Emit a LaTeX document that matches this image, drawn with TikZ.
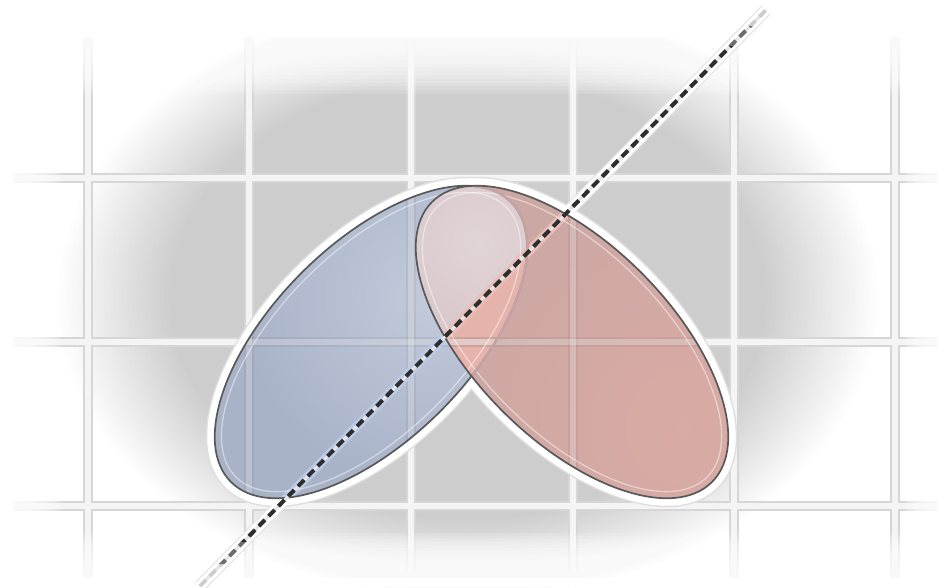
\documentclass[tikz,border=0pt]{standalone}
\definecolor{blueBase}{HTML}{A9B3C8}
\definecolor{blueHi}{HTML}{C2CADB}
\definecolor{redBase}{HTML}{CCA8A4}
\definecolor{redHi}{HTML}{DAAAA4}
\definecolor{mauve}{HTML}{CFBABE}
\definecolor{mauveHi}{HTML}{E1D4D7}
\definecolor{salmon}{HTML}{E5B3AB}
\definecolor{olgray}{HTML}{585858}
\definecolor{blueHalo}{HTML}{BBCAE6}
\definecolor{redHalo}{HTML}{EBBDB4}
\definecolor{pinkedge}{HTML}{C4A3A6}
\definecolor{dashc}{HTML}{2E2E2E}
\begin{document}
\begin{tikzpicture}[x=1pt,y=1pt,
  blueT/.style={rotate around={45:(blueC)}},
  redT/.style={rotate around={-45:(redC)}},
  bloblayer/.style={fill=black, fill opacity=0.0064},
  gridedge/.style={draw=gray!32, line width=10pt},
  gridcore/.style={draw=gray!9, line width=5.5pt},
  ingridedge/.style={draw=black, draw opacity=0.05, line width=10pt},
  ingridcore/.style={draw=white, draw opacity=0.28, line width=5.5pt},
  ellhalo/.style={draw=white, line width=15pt},
  ellhaloedge/.style={draw=gray!25, line width=18pt},
  rimline/.style={draw=white, draw opacity=0.45, line width=1.3pt},
  elloutline/.style={draw=olgray, line width=1.7pt},
  dashhalo/.style={draw=white, line width=10pt},
  dashhaloedge/.style={draw=gray!20, line width=12.5pt},
  dashbase/.style={draw=gray!20, line width=3pt},
  dashseg/.style={draw=#1, line width=3.8pt, dash pattern=on 8.5pt off 5.5pt},
  fadelayer/.style={fill=white, fill opacity=0.15}
]
\useasboundingbox (0,0) rectangle (946,587);
\coordinate (blobC) at (468,290);
\coordinate (blueC) at (371,245);
\coordinate (redC) at (572,245);
\coordinate (lineA) at (200,1);
\coordinate (lineB) at (766,577);
\coordinate (P1) at (-83,-287);
\coordinate (P2) at (1049,865);
\fill[white] (0,0) rectangle (946,587);
\begin{scope}
\clip (0,0) rectangle (946,587);
% soft gray background (stacked translucent layers)
\foreach \i in {0,...,24} \fill[bloblayer] (blobC) ellipse ({410-\i*4.6} and {300-\i*3.2});
% grid
\foreach \gx in {88,249,411,573,734,895} \draw[gridedge] (\gx,0) -- (\gx,587);
\foreach \gy in {81,245,409} \draw[gridedge] (0,\gy) -- (946,\gy);
\foreach \gx in {88,249,411,573,734,895} \draw[gridcore] (\gx,0) -- (\gx,587);
\foreach \gy in {81,245,409} \draw[gridcore] (0,\gy) -- (946,\gy);
% fading margins (stacked white layers)
\fill[white] (0,550) rectangle (946,587);
\foreach \i in {1,...,15} \fill[fadelayer] (0,{550-\i*3.8}) rectangle (946,587);
\fill[white] (0,0) rectangle (946,9);
\foreach \i in {1,...,15} \fill[fadelayer] (0,0) rectangle (946,{9+\i*3});
\fill[white] (0,0) rectangle (13,587);
\foreach \i in {1,...,15} \fill[fadelayer] (0,0) rectangle ({13+\i*3.2},587);
\fill[white] (938,0) rectangle (946,587);
\foreach \i in {1,...,15} \fill[fadelayer] ({938-\i*2.2},0) rectangle (946,587);
% halos
\draw[ellhaloedge, blueT] (blueC) ellipse (198 and 98);
\draw[ellhaloedge, redT] (redC) ellipse (198 and 98);
\draw[dashhaloedge] (lineA) -- (lineB);
\draw[ellhalo, blueT] (blueC) ellipse (198 and 98);
\draw[ellhalo, redT] (redC) ellipse (198 and 98);
\draw[dashhalo] (lineA) -- (lineB);
% blue ellipse fill
\fill[blueBase, blueT] (blueC) ellipse (198 and 98);
\begin{scope}
  \clip[blueT] (blueC) ellipse (198 and 98);
  \shade[inner color=blueHi, outer color=blueBase] (430,290) circle (190);
\end{scope}
% red ellipse fill
\fill[redBase, redT] (redC) ellipse (198 and 98);
\begin{scope}
  \clip[redT] (redC) ellipse (198 and 98);
  \shade[inner color=redHi, outer color=redBase] (685,160) circle (240);
\end{scope}
% overlap
\begin{scope}
  \clip[blueT] (blueC) ellipse (198 and 98);
  \clip[redT] (redC) ellipse (198 and 98);
  \begin{scope}
    \clip (P1) -- (P2) -- (-500,865) -- (-500,-287) -- cycle;
    \fill[mauve] (0,0) rectangle (946,587);
    \shade[inner color=mauveHi, outer color=mauve] (478,345) circle (190);
  \end{scope}
  \begin{scope}
    \clip (P1) -- (P2) -- (1500,865) -- (1500,-287) -- cycle;
    \fill[salmon] (0,0) rectangle (946,587);
  \end{scope}
\end{scope}
% grid seen through the ellipses
\begin{scope}
  \clip[blueT] (blueC) ellipse (198 and 98);
  \foreach \gx in {249,411,573} \draw[ingridedge] (\gx,0) -- (\gx,587);
  \foreach \gy in {81,245,409} \draw[ingridedge] (0,\gy) -- (946,\gy);
  \foreach \gx in {249,411,573} \draw[ingridcore] (\gx,0) -- (\gx,587);
  \foreach \gy in {81,245,409} \draw[ingridcore] (0,\gy) -- (946,\gy);
\end{scope}
\begin{scope}
  \clip[redT] (redC) ellipse (198 and 98);
  \foreach \gx in {411,573,734} \draw[ingridedge] (\gx,0) -- (\gx,587);
  \foreach \gy in {81,245,409} \draw[ingridedge] (0,\gy) -- (946,\gy);
  \foreach \gx in {411,573,734} \draw[ingridcore] (\gx,0) -- (\gx,587);
  \foreach \gy in {81,245,409} \draw[ingridcore] (0,\gy) -- (946,\gy);
\end{scope}
% tinted halos of the dashed line inside the ellipses
\begin{scope}
  \clip[blueT] (blueC) ellipse (198 and 98);
  \draw[blueHalo, line width=9pt] (lineA) -- (lineB);
\end{scope}
\begin{scope}
  \clip[redT] (redC) ellipse (198 and 98);
  \draw[redHalo, line width=9pt] (lineA) -- (lineB);
\end{scope}
% rims
\draw[rimline, blueT] (blueC) ellipse (191 and 91);
\draw[rimline, redT] (redC) ellipse (191 and 91);
% outlines
\draw[elloutline, blueT] (blueC) ellipse (198 and 98);
\begin{scope}
  \clip[redT] (redC) ellipse (198 and 98);
  \draw[pinkedge, line width=2.4pt, blueT] (blueC) ellipse (198 and 98);
\end{scope}
\draw[elloutline, redT] (redC) ellipse (198 and 98);
% dashed line
\draw[dashbase] (lineA) -- (lineB);
\draw[dashseg=gray!40] (lineA) -- (lineB);
\begin{scope}
  \clip (0,24) rectangle (946,560);
  \draw[dashseg=gray!85!black] (lineA) -- (lineB);
\end{scope}
\begin{scope}
  \clip (0,46) rectangle (946,540);
  \draw[dashseg=dashc] (lineA) -- (lineB);
\end{scope}
\end{scope}
\end{tikzpicture}
\end{document}
